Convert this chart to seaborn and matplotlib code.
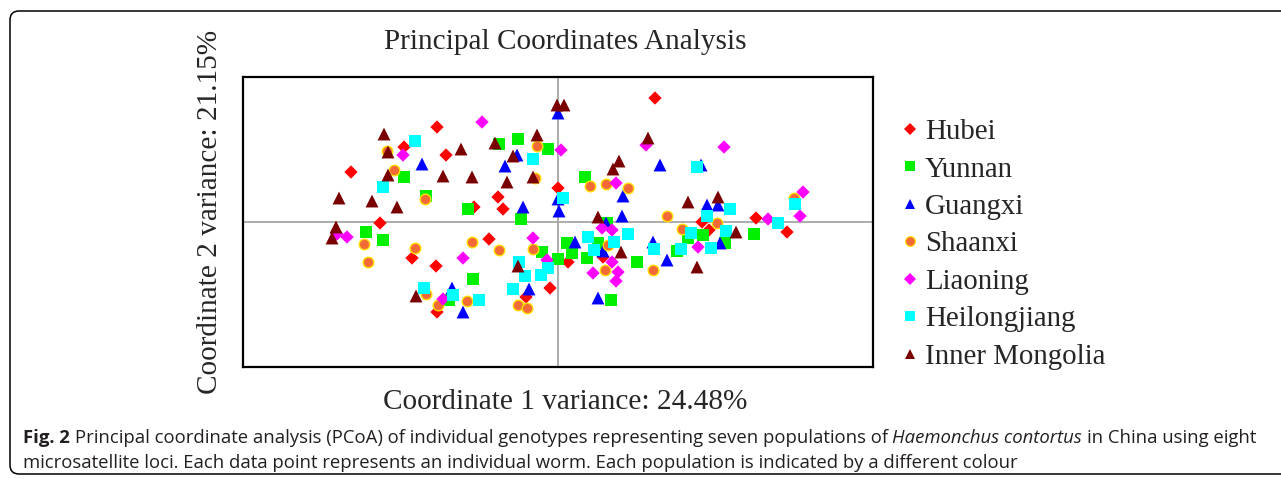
import matplotlib
matplotlib.use("Agg")
import matplotlib.pyplot as plt
import seaborn as sns
import pandas as pd
from matplotlib.lines import Line2D
from matplotlib.patches import FancyBboxPatch
from matplotlib.transforms import IdentityTransform

# PCoA coordinates (coordinate 1, coordinate 2)
hubei_x = [-1.21, -1.54, -1.12, -2.07, -0.60, -0.55, -0.84, 0.00, -1.78, 0.97, -1.46,
           -1.22, -0.69, -1.21, -0.32, -0.08, 0.10, 0.45, 1.44, 1.51, 1.98, 2.29]
hubei_y = [0.95, 0.75, 0.67, 0.50, 0.25, 0.13, 0.15, 0.34, -0.01, 1.24, -0.36,
           -0.44, -0.17, -0.90, -0.75, -0.66, -0.40, -0.35, 0.00, -0.08, 0.04, -0.10]

yunnan_x = [-0.59, -0.40, -0.10, -1.54, -1.32, -0.90, -0.37, -1.92, -1.75, 0.27, 0.49, -0.85, -1.09,
            -0.16, 0.00, 0.09, 0.14, 0.29, 0.40, 0.53, 0.79, 1.19, 1.30, 1.45, 1.67, 1.96]
yunnan_y = [0.78, 0.83, 0.73, 0.45, 0.26, 0.13, 0.03, -0.10, -0.18, 0.45, -0.01, -0.57, -0.78,
            -0.30, -0.37, -0.21, -0.31, -0.36, -0.21, -0.78, -0.40, -0.29, -0.16, -0.13, -0.21, -0.12]

guangxi_x = [-1.36, -0.53, -0.41, -0.35, 0.00, 0.00, 0.01, 1.02, 0.65, 0.64, 0.48, 1.43,
             1.49, 1.60, -1.06, -0.95, -0.29, 0.17, 0.45, 0.40, 0.95, 1.09, 1.62]
guangxi_y = [0.58, 0.56, 0.67, 0.15, 1.09, 0.23, 0.11, 0.57, 0.26, 0.06, -0.01, 0.57,
             0.17, 0.17, -0.66, -0.90, -0.67, -0.20, -0.29, -0.76, -0.20, -0.38, -0.21]

shaanxi_x = [-1.71, -1.64, -1.33, -0.21, -0.23, 0.32, 0.48, 0.70, 1.09, 2.36, 1.24, 1.59, -1.94,
             -1.90, -1.43, -0.86, -0.59, -1.32, -1.20, -0.91, -0.25, -0.40, -0.31, 0.47, 0.95, 0.50]
shaanxi_y = [0.71, 0.52, 0.23, 0.76, 0.44, 0.36, 0.38, 0.34, 0.06, 0.24, -0.07, -0.01, -0.22,
             -0.40, -0.26, -0.20, -0.28, -0.72, -0.83, -0.79, -0.27, -0.83, -0.86, -0.48, -0.48, -0.23]

liaoning_x = [-0.76, -1.55, 0.03, 0.88, 0.58, 1.66, 2.45, 2.42, 2.10, -2.11, -2.21,
              -0.95, -1.15, -0.25, -0.11, 0.44, 0.54, 0.35, 0.54, 0.60, 0.58, 1.40]
liaoning_y = [1.00, 0.67, 0.72, 0.77, 0.39, 0.75, 0.30, 0.06, 0.03, -0.15, -0.12,
              -0.36, -0.77, -0.16, -0.38, -0.06, -0.08, -0.51, -0.40, -0.50, -0.59, -0.25]

heilongjiang_x = [-1.43, -1.75, -0.25, 0.05, 1.39, 1.49, 1.72, 2.37, 2.20, 1.33, 1.68, 1.23, 1.53,
                  0.70, 0.30, 0.36, 0.56, 0.96, -0.39, -0.33, -0.10, -0.17, -0.45, -1.34, -1.05, -0.79]
heilongjiang_y = [0.81, 0.35, 0.63, 0.24, 0.55, 0.06, 0.13, 0.18, -0.01, -0.11, -0.09, -0.27, -0.26,
                  -0.12, -0.15, -0.28, -0.20, -0.27, -0.40, -0.54, -0.46, -0.53, -0.67, -0.66, -0.73, -0.78]

mongolia_x = [-1.74, -1.70, -1.70, -2.19, -1.86, -1.61, -1.15, -0.97, -0.86, -0.63, -0.51, -0.45, -0.21,
              -0.25, -0.01, 0.06, -2.22, -2.26, 0.61, 0.55, 0.90, 0.40, 1.30, 1.60, 1.78, 1.39,
              0.63, -0.40, -1.42]
mongolia_y = [0.88, 0.70, 0.47, 0.24, 0.21, 0.15, 0.46, 0.73, 0.45, 0.79, 0.40, 0.66, 0.87,
              0.45, 1.17, 1.17, -0.05, -0.16, 0.61, 0.53, 0.84, 0.05, 0.20, 0.25, -0.10, -0.45,
              -0.30, -0.44, -0.74]

populations = ["Hubei", "Yunnan", "Guangxi", "Shaanxi", "Liaoning", "Heilongjiang", "Inner Mongolia"]
xs = [hubei_x, yunnan_x, guangxi_x, shaanxi_x, liaoning_x, heilongjiang_x, mongolia_x]
ys = [hubei_y, yunnan_y, guangxi_y, shaanxi_y, liaoning_y, heilongjiang_y, mongolia_y]

colors = ["#FF0000", "#00F000", "#0000FF", "#F26A35", "#FF00FF", "#00FFFF", "#7A0000"]
edges = ["none", "none", "none", "#FFE000", "none", "none", "none"]
markers = ["D", "s", "^", "o", "D", "s", "^"]
sizes = [46, 76, 86, 58, 46, 76, 86]

frames = []
for pop, x, y in zip(populations, xs, ys):
    frames.append(pd.DataFrame({"population": pop, "coord1": x, "coord2": y}))
df = pd.concat(frames, ignore_index=True)

sns.set_style("white")
plt.rcParams["font.family"] = ["Liberation Serif", "DejaVu Serif"]

fig = plt.figure(figsize=(12.81, 4.79), dpi=100)
ax = fig.add_axes([0.1897, 0.2338, 0.4918, 0.6054])

ax.axhline(0, color="#a6a6a6", lw=1.3, zorder=1)
ax.axvline(0, color="#a6a6a6", lw=1.3, zorder=1)

for i, pop in enumerate(populations):
    sub = df[df["population"] == pop]
    sns.scatterplot(data=sub, x="coord1", y="coord2", ax=ax, color=colors[i],
                    marker=markers[i], s=sizes[i], edgecolor=edges[i],
                    linewidth=1.0 if edges[i] != "none" else 0, legend=False, zorder=3 + i)

ax.set_xlim(-3.15, 3.15)
ax.set_ylim(-1.45, 1.45)
ax.set_xticks([])
ax.set_yticks([])
ax.set_xlabel("")
ax.set_ylabel("")
for sp in ax.spines.values():
    sp.set_color("black")
    sp.set_linewidth(1.6)

fig.text(0.441, 0.913, "Principal Coordinates Analysis", ha="center", va="center", fontsize=21.1)
fig.text(0.441, 0.160, "Coordinate 1 variance: 24.48%", ha="center", va="center", fontsize=21.1)
fig.text(0.164, 0.557, "Coordinate 2 variance: 21.15%", ha="center", va="center",
         rotation=90, fontsize=21.1)

handles = []
for i, pop in enumerate(populations):
    handles.append(Line2D([], [], linestyle="none", marker=markers[i],
                          markersize=7 if markers[i] != "D" else 6,
                          markerfacecolor=colors[i],
                          markeredgecolor=edges[i] if edges[i] != "none" else colors[i],
                          markeredgewidth=0.8 if edges[i] != "none" else 0))
fig.legend(handles, populations, loc="upper left", bbox_to_anchor=(0.705, 0.752),
           frameon=False, fontsize=20.8, handlelength=0.5, handletextpad=0.25,
           labelspacing=0.39, borderpad=0, borderaxespad=0)

# rounded frame around the figure panel
frame = FancyBboxPatch((10, 5), 1300, 463, boxstyle="round,pad=0,rounding_size=9",
                       transform=IdentityTransform(), facecolor="none",
                       edgecolor="black", linewidth=1.1)
fig.add_artist(frame)

# caption with mixed bold / italic pieces
cap_font = ["Open Sans", "DejaVu Sans"]
cap_size = 13.3
line1 = [("Fig. 2", "bold", "normal"),
         ("Principal coordinate analysis (PCoA) of individual genotypes representing seven populations of",
          "normal", "normal"),
         ("Haemonchus contortus", "normal", "italic"),
         ("in China using eight", "normal", "normal")]
line2 = [("microsatellite loci. Each data point represents an individual worm. Each population is indicated by a different colour",
          "normal", "normal")]

renderer = fig.canvas.get_renderer()
t1 = fig.text(0, 0, "x x", family=cap_font, fontsize=cap_size)
t2 = fig.text(0, 0, "xx", family=cap_font, fontsize=cap_size)
space_w = t1.get_window_extent(renderer).width - t2.get_window_extent(renderer).width
t1.remove()
t2.remove()

for pieces, base in [(line1, 479 - 443), (line2, 479 - 468)]:
    xpos = 23
    for txt, weight, style in pieces:
        t = fig.text(xpos / 1281, base / 479, txt, family=cap_font, fontsize=cap_size,
                     fontweight=weight, fontstyle=style, va="baseline", ha="left", color="#231f20")
        xpos += t.get_window_extent(renderer).width + space_w

fig.savefig("out.png", dpi=100)
